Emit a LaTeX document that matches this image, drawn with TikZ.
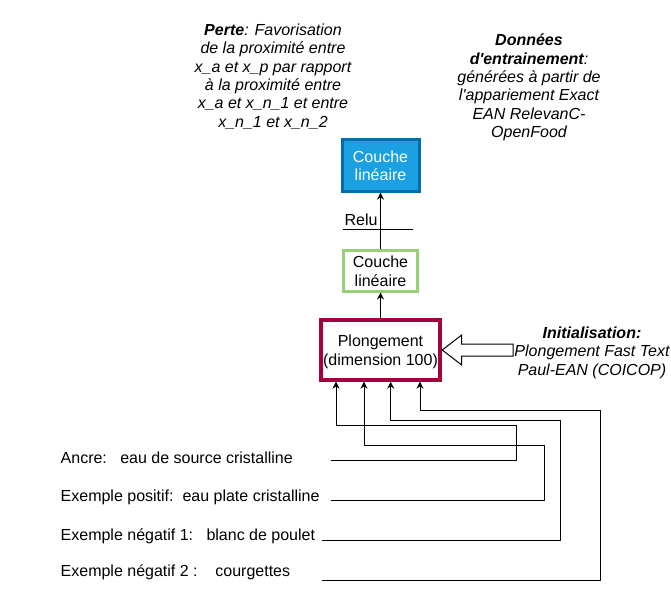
\documentclass[tikz,border=0pt]{standalone}
\usepackage{fontspec}
\setmainfont{Liberation Sans}
\usetikzlibrary{arrows.meta,calc}
\definecolor{bluefill}{HTML}{1BA1E2}
\definecolor{blueline}{HTML}{006EAF}
\definecolor{greenline}{HTML}{97D077}
\definecolor{crimsonline}{HTML}{A50040}
\newcommand{\fsz}{\fontsize{16}{18.4}\selectfont}
\begin{document}
\begin{tikzpicture}[x=1pt,y=-1pt,
  txt/.style={inner sep=0pt, align=center, font=\fsz},
  itxt/.style={inner sep=0pt, align=center, font=\fsz\itshape},
  boxstyle/.style={draw, align=center, inner sep=0pt, font=\fsz, text height=30.5pt, text depth=0pt},
  arr/.style={-{Stealth[length=7pt,width=7pt]}, line width=1pt},
  wire/.style={line width=1pt}]
\useasboundingbox (0,0) rectangle (671,601);

% text blocks
\node[itxt] (perte) at (273,76.5) {\textbf{Perte}: Favorisation\\de la proximité entre\\x\_a et x\_p par rapport\\à la proximité entre\\x\_a et x\_n\_1 et entre\\x\_n\_1 et x\_n\_2};
\node[itxt] (donnees) at (529,87.5) {\textbf{Données}\\\textbf{d\textquotesingle entrainement}:\\générées à partir de\\l\textquotesingle appariement Exact\\EAN RelevanC-\\OpenFood};

% boxes
\node[boxstyle, draw=blueline, fill=bluefill, line width=3pt, minimum width=77pt, minimum height=51.4pt, text=white] (lin2) at (380.5,165.5) {Couche\\linéaire};
\node[boxstyle, draw=greenline, fill=white, line width=3pt, minimum width=74pt, minimum height=40pt] (lin1) at (380.5,271) {Couche\\linéaire};
\node[boxstyle, draw=crimsonline, fill=white, line width=4pt, minimum width=119.4pt, minimum height=59.4pt] (plong) at (380.5,350) {Plongement\\(dimension 100)};

\draw[arr] (lin1.north) -- (lin2.south);
\draw[arr] (plong.north) -- (lin1.south);

% Relu
\node[txt] (relu) at (361,220) {Relu};
\coordinate (rl) at (343,230);
\coordinate (rr) at (413,230);
\draw[wire] (rl) -- (rr);

% hollow arrow
\coordinate (initend) at (513,350);
\draw[line width=1pt, fill=white, line join=miter] (plong.east) -- (461.7,335) -- (461.7,344) -- (initend |- 0,344) -- (initend |- 0,356) -- (461.7,356) -- (461.7,365) -- cycle;
\node[itxt] (init) at (592,352.5) {\textbf{Initialisation:}\\Plongement Fast Text\\Paul-EAN (COICOP)};

% inputs
\node[txt, anchor=west] (anc) at (60.5,458) {Ancre:~~~eau de source cristalline};
\node[txt, anchor=west] (pos) at (60.5,497) {Exemple positif:~~eau plate cristalline};
\node[txt, anchor=west] (neg1) at (60.5,536) {Exemple négatif 1:~~~blanc de poulet};
\node[txt, anchor=west] (neg2) at (60.5,572.5) {Exemple négatif 2 :~~~~courgettes};

\coordinate (a0) at (330.7,460);
\coordinate (a1) at (330.7,500);
\coordinate (a2) at (321.7,540);
\coordinate (a3) at (321.7,580);

\draw[arr] (a0) -| (516,425.7) -| ([xshift=-44.5pt]plong.south);
\draw[arr] (a1) -| (544,445.3) -| ([xshift=-16.5pt]plong.south);
\draw[arr] (a2) -| (560,420) -| ([xshift=10.2pt]plong.south);
\draw[arr] (a3) -| (600,410) -| ([xshift=39.5pt]plong.south);
\end{tikzpicture}
\end{document}
